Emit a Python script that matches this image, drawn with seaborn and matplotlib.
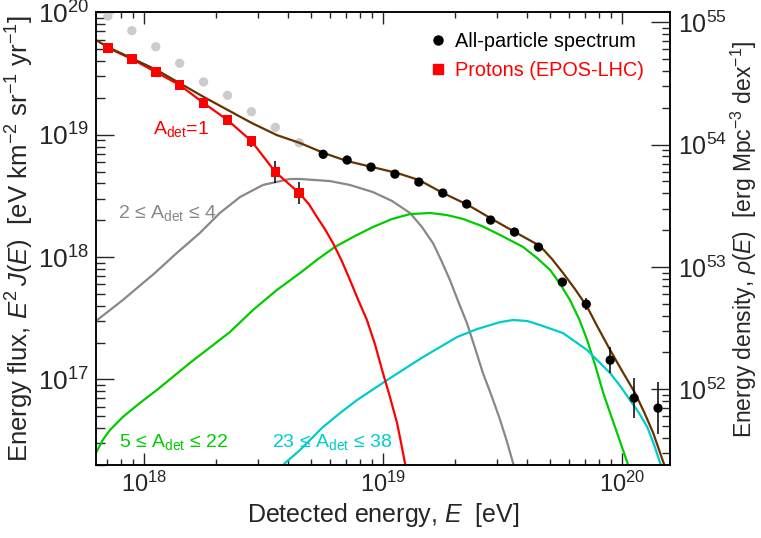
import numpy as np
import pandas as pd
import matplotlib
matplotlib.use('Agg')
import matplotlib.pyplot as plt
import seaborn as sns
from matplotlib.lines import Line2D
from matplotlib.ticker import LogLocator, NullFormatter

# all values are log10: energy in eV, flux in eV km^-2 sr^-1 yr^-1
LOG_E_LOW = [17.85, 17.95, 18.05, 18.15, 18.25, 18.35, 18.45, 18.55, 18.65]
LOG_E_HIGH = [18.75, 18.85, 18.95, 19.05, 19.15, 19.25, 19.35, 19.45,
              19.55, 19.65, 19.75, 19.85, 19.95, 20.05, 20.15]

GREY_FLUX = [19.971, 19.851, 19.720, 19.585, 19.432, 19.323, 19.189, 19.061, 18.935]
PROTON_FLUX = [19.710, 19.620, 19.513, 19.407, 19.260, 19.121, 18.949, 18.696, 18.524]
PROTON_ERR = [0.01, 0.01, 0.01, 0.015, 0.02, 0.03, 0.045, 0.09, 0.09]
ALL_FLUX = [18.841, 18.794, 18.736, 18.679, 18.614, 18.524, 18.434, 18.303,
            18.205, 18.082, 17.796, 17.616, 17.158, 16.848, 16.766]
ALL_ERR = [0.01, 0.01, 0.01, 0.01, 0.01, 0.01, 0.01, 0.015,
           0.015, 0.02, 0.03, 0.05, 0.105, 0.165, 0.21]

# model curves
TOTAL_E = [17.80, 17.849, 18.054, 18.251, 18.351, 18.452, 18.556, 18.653, 18.753,
           18.849, 18.954, 19.059, 19.151, 19.251, 19.356, 19.456, 19.552, 19.657,
           19.707, 19.753, 19.803, 19.854, 19.900, 19.950, 20.000, 20.054, 20.092,
           20.130, 20.172, 20.20]
TOTAL_F = [19.775, 19.718, 19.530, 19.309, 19.203, 19.096, 18.998, 18.933, 18.851,
           18.786, 18.737, 18.688, 18.630, 18.524, 18.426, 18.311, 18.205, 18.091,
           17.984, 17.870, 17.739, 17.592, 17.420, 17.240, 17.069, 16.889, 16.733,
           16.562, 16.325, 16.18]

P_MODEL_E = LOG_E_LOW + [18.690, 18.724, 18.757, 18.791, 18.828, 18.862, 18.895, 18.933,
                         18.967, 19.000, 19.029, 19.059, 19.075, 19.092, 19.12]
P_MODEL_F = PROTON_FLUX + [18.434, 18.328, 18.230, 18.115, 17.968, 17.813, 17.657, 17.486,
                           17.285, 17.052, 16.858, 16.643, 16.488, 16.316, 16.05]

HE_E = [17.80, 17.912, 18.046, 18.138, 18.234, 18.318, 18.402, 18.498, 18.611, 18.653,
        18.778, 18.862, 18.958, 19.038, 19.113, 19.163, 19.209, 19.243, 19.280, 19.314,
        19.351, 19.385, 19.418, 19.456, 19.490, 19.519, 19.544, 19.58]
HE_F = [17.478, 17.649, 17.870, 18.034, 18.197, 18.361, 18.491, 18.590, 18.639, 18.639,
        18.622, 18.590, 18.532, 18.459, 18.361, 18.246, 18.115, 17.976, 17.813, 17.641,
        17.461, 17.256, 17.052, 16.856, 16.668, 16.488, 16.316, 16.08]

CNO_E = [17.799, 17.828, 17.858, 17.912, 17.983, 18.054, 18.192, 18.360, 18.456, 18.556,
         18.653, 18.728, 18.799, 18.883, 18.958, 19.038, 19.113, 19.197, 19.268, 19.335,
         19.414, 19.490, 19.586, 19.644, 19.699, 19.741, 19.782, 19.820, 19.854, 19.887,
         19.921, 19.950, 19.979, 20.021, 20.05]
CNO_F = [16.397, 16.504, 16.586, 16.693, 16.807, 16.913, 17.134, 17.388, 17.567, 17.731,
         17.870, 17.984, 18.083, 18.173, 18.246, 18.312, 18.352, 18.361, 18.344, 18.312,
         18.254, 18.181, 18.083, 17.993, 17.895, 17.780, 17.649, 17.494, 17.322, 17.118,
         16.889, 16.725, 16.562, 16.325, 16.10]

SI_E = [18.56, 18.590, 18.653, 18.749, 18.820, 18.891, 18.954, 19.017, 19.167, 19.310,
        19.393, 19.490, 19.544, 19.603, 19.657, 19.753, 19.854, 19.900, 19.950, 19.992,
        20.033, 20.071, 20.105, 20.134, 20.159, 20.19]
SI_F = [16.25, 16.316, 16.423, 16.611, 16.725, 16.831, 16.913, 16.995, 17.183, 17.347,
        17.412, 17.469, 17.486, 17.478, 17.445, 17.379, 17.240, 17.150, 17.052, 16.946,
        16.831, 16.725, 16.611, 16.464, 16.316, 16.10]

RIGHT_FACTOR = 10 ** 35.08  # energy density per unit energy flux

BROWN = '#663300'
GREY = '#888888'
GREEN = '#00cc00'
CYAN = '#00cccc'


def to_lin(vals):
    return 10 ** np.asarray(vals, dtype=float)


sns.set_style('ticks')
plt.rcParams['font.family'] = ['Liberation Sans', 'DejaVu Sans']
plt.rcParams['mathtext.fontset'] = 'custom'
plt.rcParams['mathtext.rm'] = 'Liberation Sans'
plt.rcParams['mathtext.it'] = 'Liberation Sans:italic'
plt.rcParams['mathtext.bf'] = 'Liberation Sans:bold'

fig = plt.figure(figsize=(7.61, 5.38), dpi=100)
ax = fig.add_axes([0.1261, 0.1357, 0.7543, 0.8411])
ax.set_xscale('log')
ax.set_yscale('log')
ax.set_xlim(10 ** 17.8, 10 ** 20.2)
ax.set_ylim(2e16, 1e20)

curves = [(HE_E, HE_F, GREY), (CNO_E, CNO_F, GREEN), (SI_E, SI_F, CYAN),
          (P_MODEL_E, P_MODEL_F, 'red'), (TOTAL_E, TOTAL_F, BROWN)]
for le, lf, col in curves:
    df = pd.DataFrame({'E': to_lin(le), 'F': to_lin(lf)})
    sns.lineplot(data=df, x='E', y='F', ax=ax, color=col, linewidth=1.6,
                 estimator=None, sort=False, legend=False)

# grey points
sns.scatterplot(x=to_lin(LOG_E_LOW), y=to_lin(GREY_FLUX), ax=ax, color='#cccccc',
                s=45, marker='o', edgecolor='none', legend=False, zorder=1)

# error bars
for le, lf, err in [(LOG_E_LOW, PROTON_FLUX, PROTON_ERR),
                    (LOG_E_HIGH, ALL_FLUX, ALL_ERR)]:
    x = to_lin(le)
    y = to_lin(lf)
    e = np.asarray(err)
    ax.errorbar(x, y, yerr=[y - y * 10 ** -e, y * 10 ** e - y], fmt='none',
                ecolor='black', elinewidth=1.1, capsize=0, zorder=3)

sns.scatterplot(x=to_lin(LOG_E_LOW), y=to_lin(PROTON_FLUX), ax=ax, color='red',
                s=48, marker='s', edgecolor='none', legend=False, zorder=4)
sns.scatterplot(x=to_lin(LOG_E_HIGH), y=to_lin(ALL_FLUX), ax=ax, color='black',
                s=45, marker='o', edgecolor='none', legend=False, zorder=4)

# curve labels
ax.text(0.0993, 0.7325, r'A$_{\mathregular{det}}$=1', color='red', fontsize=14,
        transform=ax.transAxes, va='baseline')
ax.text(0.0383, 0.5459, r'2 ≤ A$_{\mathregular{det}}$ ≤ 4', color=GREY, fontsize=14,
        transform=ax.transAxes, va='baseline')
ax.text(0.040, 0.0405, r'5 ≤ A$_{\mathregular{det}}$ ≤ 22', color=GREEN, fontsize=14,
        transform=ax.transAxes, va='baseline')
ax.text(0.3066, 0.0405, r'23 ≤ A$_{\mathregular{det}}$ ≤ 38', color=CYAN, fontsize=14,
        transform=ax.transAxes, va='baseline')

handles = [Line2D([], [], marker='o', color='black', linestyle='none', markersize=6.5),
           Line2D([], [], marker='s', color='red', linestyle='none', markersize=6.5)]
ax.legend(handles, ['All-particle spectrum', 'Protons (EPOS-LHC)'], loc='upper left',
          bbox_to_anchor=(0.582, 0.956), frameon=False, fontsize=14.3,
          labelcolor=['black', 'red'], handlelength=0.8, handletextpad=0.45,
          labelspacing=0.5, borderaxespad=0, borderpad=0)

ax.set_xlabel(r'Detected energy, $E$  [eV]', fontsize=18, labelpad=3)
ax.set_ylabel(r'Energy flux, $E^{2}\,J(E)$  [eV km$^{-2}$ sr$^{-1}$ yr$^{-1}$]',
              fontsize=18.5, labelpad=1)

ax.tick_params(axis='x', which='major', direction='in', length=8.5, width=1,
               labelsize=17, top=True, pad=5)
ax.tick_params(axis='x', which='minor', direction='in', length=4.5, width=1, top=True)
ax.tick_params(axis='y', which='major', direction='in', length=13, width=1,
               labelsize=19, right=False, pad=5)
ax.tick_params(axis='y', which='minor', direction='in', length=6.5, width=1, right=False)
for a in (ax.xaxis, ax.yaxis):
    a.set_major_locator(LogLocator(base=10, numticks=10))
    a.set_minor_locator(LogLocator(base=10, subs=np.arange(2, 10), numticks=10))
    a.set_minor_formatter(NullFormatter())

ax2 = ax.twinx()
ax2.set_yscale('log')
ax2.set_ylim(2e16 * RIGHT_FACTOR, 1e20 * RIGHT_FACTOR)
ax2.yaxis.set_major_locator(LogLocator(base=10, numticks=10))
ax2.yaxis.set_minor_locator(LogLocator(base=10, subs=np.arange(2, 10), numticks=10))
ax2.yaxis.set_minor_formatter(NullFormatter())
ax2.tick_params(axis='y', which='major', direction='in', length=13.5, width=1,
                labelsize=18, pad=6)
ax2.tick_params(axis='y', which='minor', direction='in', length=6, width=1)
ax2.set_ylabel(r'Energy density, $\rho(E)$  [erg Mpc$^{-3}$ dex$^{-1}$]',
               fontsize=16.5, labelpad=1)

for a in (ax, ax2):
    for sp in a.spines.values():
        sp.set_linewidth(1.1)
        sp.set_color('black')

fig.savefig('out.png', dpi=100)
